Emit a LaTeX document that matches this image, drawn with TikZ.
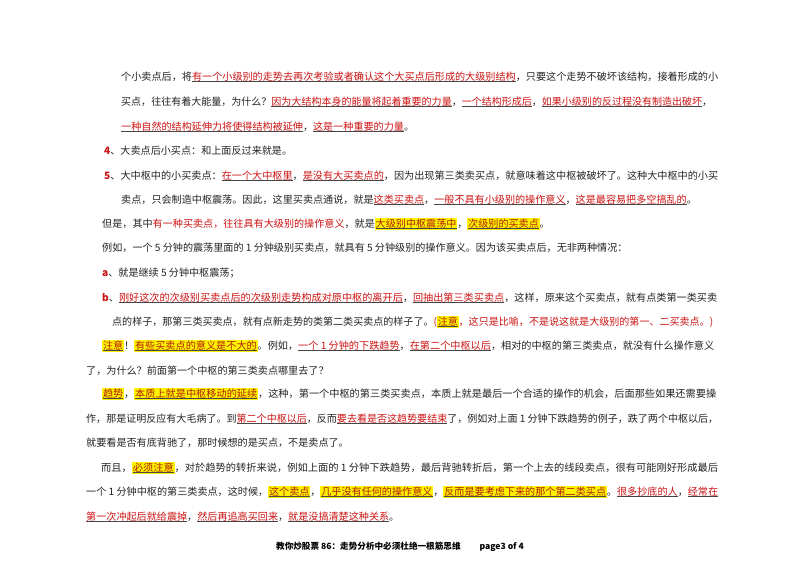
\documentclass[tikz,border=0pt]{standalone}
\usepackage{fontspec}
\usepackage{graphicx}
\setmainfont{Noto Sans CJK SC}
\definecolor{rt}{RGB}{205,20,20}
\definecolor{hr}{RGB}{175,30,10}
\definecolor{ulc}{RGB}{70,70,70}
\definecolor{bt}{RGB}{35,35,35}
\newcommand\ulx[1]{\setbox0\hbox{#1}\rlap{\textcolor{ulc}{\rule[-2.4pt]{\wd0}{1pt}}}\box0}
\newcommand\RD[1]{\ulx{\textcolor{rt}{#1}}}
\newcommand\HL[1]{{\setlength\fboxsep{0.8pt}\colorbox{yellow}{\ulx{\textcolor{hr}{#1}}}}}
\newcommand\fw[2]{\resizebox{#1}{\height}{#2}}
\begin{document}
\begin{tikzpicture}[x=1pt,y=-1pt,
  ln/.style={anchor=west,inner sep=0pt,font=\fontsize{10.1}{12}\selectfont,text=bt},
  ft/.style={anchor=center,inner sep=0pt,font=\fontsize{8.6}{10}\selectfont\bfseries,text=black}]
\useasboundingbox[fill=white] (0,0) rectangle (800,566);
\node[ln] (l1) at (121,77) {\fw{597pt}{个小卖点后，将\RD{有一个小级别的走势去再次考验或者确认这个大买点后形成的大级别结构}，只要这个走势不破坏该结构，接着形成的小}};
\node[ln] (l2) at (121,102) {\fw{591pt}{买点，往往有着大能量，为什么？\RD{因为大结构本身的能量将起着重要的力量}，\RD{一个结构形成后}，\RD{如果小级别的反过程没有制造出破坏}，}};
\node[ln] (l3) at (121,127) {\RD{一种自然的结构延伸力将使得结构被延伸}，\RD{这是一种重要的力量}。};
\node[ln] (l4) at (104,151) {\textcolor{rt}{\textbf{4}}、大卖点后小买点：和上面反过来就是。};
\node[ln] (l5) at (104,176) {\fw{614pt}{\textcolor{rt}{\textbf{5}}、大中枢中的小买卖点：\RD{在一个大中枢里}，\RD{是没有大买卖点的}，因为出现第三类卖买点，就意味着这中枢被破坏了。这种大中枢中的小买}};
\node[ln] (l6) at (121,200) {卖点，只会制造中枢震荡。因此，这里买卖点通说，就是\RD{这类买卖点}，\RD{一般不具有小级别的操作意义}，\RD{这是最容易把多空搞乱的}。};
\node[ln] (l7) at (102,224) {但是，其中\textcolor{rt}{有一种买卖点，往往具有大级别的操作意义}，就是\HL{大级别中枢震荡中}，\HL{次级别的买卖点}。};
\node[ln] (l8) at (102,248) {例如，一个 5 分钟的震荡里面的 1 分钟级别买卖点，就具有 5 分钟级别的操作意义。因为该买卖点后，无非两种情况：};
\node[ln] (l9) at (102,273) {\textcolor{rt}{\textbf{a}}、就是继续 5 分钟中枢震荡；};
\node[ln] (l10) at (102,298) {\fw{615pt}{\textcolor{rt}{\textbf{b}}、\RD{刚好这次的次级别买卖点后的次级别走势构成对原中枢的离开后}，\RD{回抽出第三类买卖点}，这样，原来这个买卖点，就有点类第一类买卖}};
\node[ln] (l11) at (112,322) {\fw{601pt}{点的样子，那第三类买卖点，就有点新走势的类第二类买卖点的样子了。\textcolor{rt}{(}\HL{注意}\textcolor{rt}{，这只是比喻，不是说这就是大级别的第一、二买卖点。)}}};
\node[ln] (l12) at (102,346) {\fw{612pt}{\HL{注意}！\HL{有些买卖点的意义是不大的}。例如，\RD{一个 1 分钟的下跌趋势}，\RD{在第二个中枢以后}，相对的中枢的第三类卖点，就没有什么操作意义}};
\node[ln] (l13) at (86,371) {了，为什么？前面第一个中枢的第三类卖点哪里去了？};
\node[ln] (l14) at (102,394) {\fw{614pt}{\HL{趋势}，\HL{本质上就是中枢移动的延续}，这种，第一个中枢的第三类买卖点，本质上就是最后一个合适的操作的机会，后面那些如果还需要操}};
\node[ln] (l15) at (86,419) {\fw{632pt}{作，那是证明反应有大毛病了。到\RD{第二个中枢以后}，反而\RD{要去看是否这趋势要结束}了，例如对上面 1 分钟下跌趋势的例子，跌了两个中枢以后，}};
\node[ln] (l16) at (86,443) {就要看是否有底背驰了，那时候想的是买点，不是卖点了。};
\node[ln] (l17) at (101,468) {\fw{617pt}{而且，\HL{必须注意}，对於趋势的转折来说，例如上面的 1 分钟下跌趋势，最后背驰转折后，第一个上去的线段卖点，很有可能刚好形成最后}};
\node[ln] (l18) at (86,492) {\fw{632pt}{一个 1 分钟中枢的第三类卖点，这时候，\HL{这个卖点}，\HL{几乎没有任何的操作意义}，\HL{反而是要考虑下来的那个第二类买点}。\RD{很多抄底的人}，\RD{经常在}}};
\node[ln] (l19) at (86,517) {\RD{第一次冲起后就给震掉}，\RD{然后再追高买回来}，\RD{就是没搞清楚这种关系}。};
\node[ft] (foot) at (400,547) {教你炒股票 86：走势分析中必须杜绝一根筋思维\hspace{2.2em}page3 of 4};
\end{tikzpicture}
\end{document}
